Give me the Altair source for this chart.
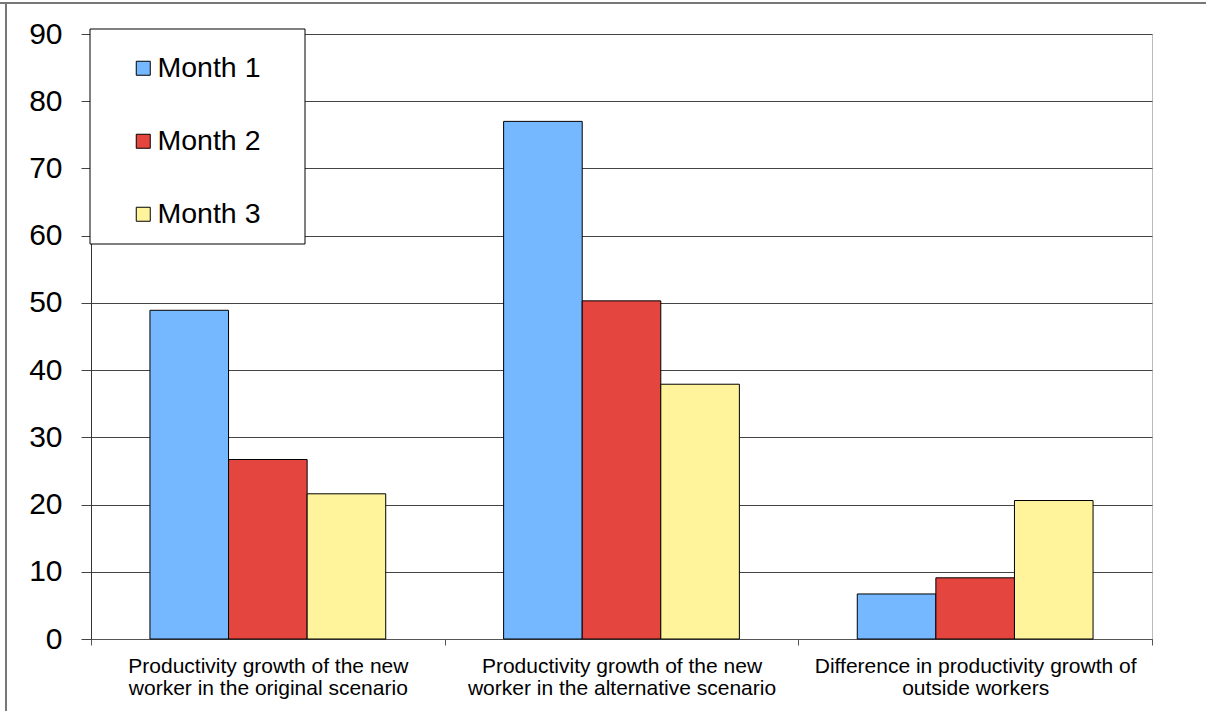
import altair as alt
import pandas as pd

# Category labels (line break marks where the axis label wraps)
categories = [
    "Productivity growth of the new\nworker in the original scenario",
    "Productivity growth of the new\nworker in the alternative scenario",
    "Difference in productivity growth of\noutside workers",
]
months = ["Month 1", "Month 2", "Month 3"]

# Values per month, one entry per category
month1 = [48.9, 77.0, 6.7]
month2 = [26.7, 50.3, 9.1]
month3 = [21.6, 37.9, 20.6]

colors = ["#75B8FF", "#E5453F", "#FFF49C"]
y_ticks = [0, 10, 20, 30, 40, 50, 60, 70, 80, 90]

rows = []
for i, cat in enumerate(categories):
    for m, vals in zip(months, [month1, month2, month3]):
        rows.append({"category": cat, "month": m, "value": vals[i]})
df = pd.DataFrame(rows)

W, H = 1061, 605
FONT = "Liberation Sans"

bars = alt.Chart(df).mark_bar(stroke="black", strokeWidth=1).encode(
    x=alt.X(
        "category:N",
        sort=categories,
        scale=alt.Scale(paddingInner=0, paddingOuter=0),
        axis=alt.Axis(
            title=None,
            labelAngle=0,
            tickBand="extent",
            tickSize=6,
            tickColor="#555",
            domainColor="#555",
            labelExpr="split(datum.label, '\\n')",
            labelFont=FONT,
            labelFontSize=21,
            labelLineHeight=22,
            labelColor="black",
            labelPadding=10,
            labelLimit=0,
            grid=False,
        ),
    ),
    xOffset=alt.XOffset(
        "month:N", sort=months, scale=alt.Scale(paddingInner=0, paddingOuter=0.75)
    ),
    y=alt.Y(
        "value:Q",
        scale=alt.Scale(domain=[0, 90], nice=False),
        axis=alt.Axis(
            title=None,
            values=y_ticks,
            tickSize=10,
            tickColor="#444",
            domainColor="#333",
            gridColor="#444",
            gridWidth=1,
            labelFont=FONT,
            labelFontSize=30,
            labelColor="black",
            labelPadding=19,
        ),
    ),
    color=alt.Color(
        "month:N",
        sort=months,
        scale=alt.Scale(domain=months, range=colors),
        legend=alt.Legend(
            title=None,
            orient="none",
            legendX=38,
            legendY=20,
            padding=0,
            symbolType="square",
            symbolSize=196,
            symbolStrokeColor="black",
            symbolStrokeWidth=1,
            labelFont=FONT,
            labelFontSize=28.5,
            labelColor="black",
            labelOffset=0,
            rowPadding=44,
        ),
    ),
)

# White legend box with black border
box = alt.Chart(pd.DataFrame({"box": [0]})).mark_rect(
    fill="white", stroke="black", strokeWidth=1
).encode(
    x=alt.value(-1), x2=alt.value(214), y=alt.value(-5), y2=alt.value(210)
)

# Outer frame lines along the top and left edges
frame_top = alt.Chart(pd.DataFrame({"f": [0]})).mark_rule(
    color="#777", strokeWidth=2
).encode(x=alt.value(-91), x2=alt.value(1115), y=alt.value(-31))
frame_left = alt.Chart(pd.DataFrame({"f": [0]})).mark_rule(
    color="#777", strokeWidth=2
).encode(x=alt.value(-85), y=alt.value(-31), y2=alt.value(677))

chart = (
    alt.layer(bars, box, frame_top, frame_left)
    .properties(
        width=W,
        height=H,
        autosize=alt.AutoSizeParams(type="none"),
        padding={"left": 91, "top": 34, "right": 54, "bottom": 72},
        background="white",
    )
    .configure_view(stroke="#bbb", strokeWidth=1)
)

chart.save("out.html", embed_options={"renderer": "svg", "actions": False})
